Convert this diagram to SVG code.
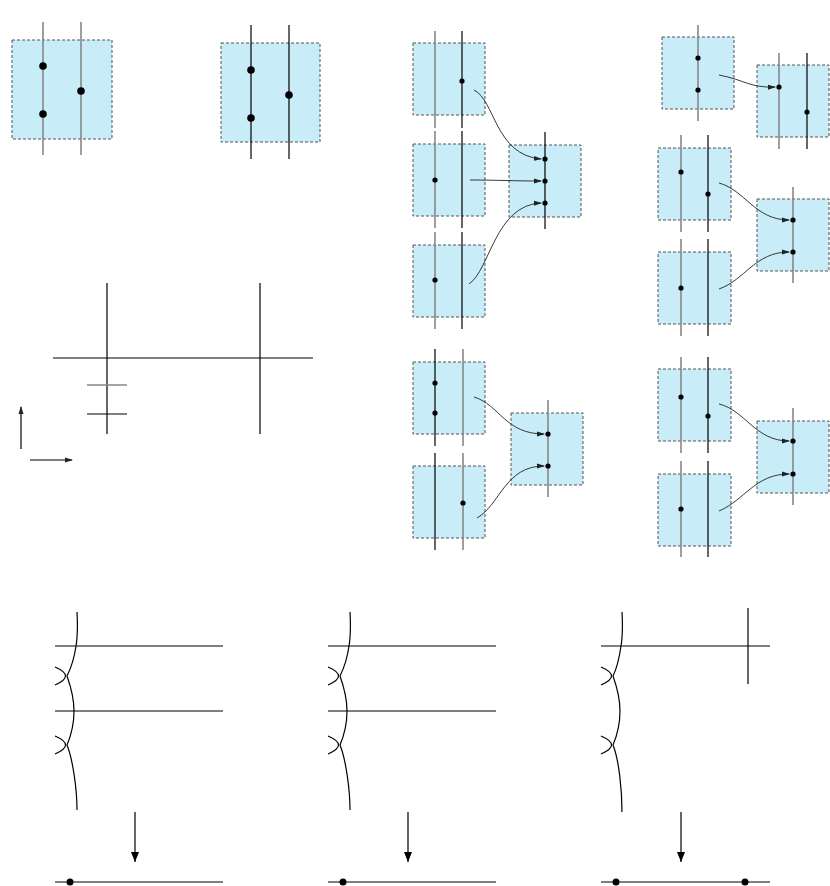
<svg xmlns="http://www.w3.org/2000/svg" width="830" height="886" viewBox="0 0 830 886">
<defs>
<style>
.box{fill:#c8ecf8;stroke:#555;stroke-width:1;stroke-dasharray:3,2}
.g{stroke:#888;stroke-width:1.6;fill:none}
.k{stroke:#000;stroke-width:1.2;fill:none}
.c{stroke:#222;stroke-width:0.9;fill:none;marker-end:url(#ah)}
.ln{stroke:#000;stroke-width:1.2;fill:none}
</style>
<marker id="ah" markerWidth="8" markerHeight="6" refX="7" refY="3" orient="auto" markerUnits="userSpaceOnUse"><path d="M0,0.5 L8,3 L0,5.5 z" fill="#222"/></marker>
<marker id="ah2" markerWidth="10" markerHeight="10" refX="10" refY="4.5" orient="auto" markerUnits="userSpaceOnUse"><path d="M0,0.5 L10,4.5 L0,8.5 z" fill="#000"/></marker>
</defs>
<rect width="830" height="886" fill="#fff"/>
<g id="p1"><rect class="box" x="12" y="40" width="100" height="99"/><line class="g" x1="43" y1="22" x2="43" y2="155"/><line class="g" x1="81" y1="22" x2="81" y2="155"/><circle cx="43" cy="66" r="3.8"/><circle cx="81" cy="91" r="3.8"/><circle cx="43" cy="114" r="3.8"/></g>
<g id="p2"><rect class="box" x="221" y="43" width="99" height="99"/><line class="k" x1="251" y1="25" x2="251" y2="159"/><line class="k" x1="289" y1="25" x2="289" y2="159"/><circle cx="251" cy="70" r="3.8"/><circle cx="289" cy="95" r="3.8"/><circle cx="251" cy="118" r="3.8"/></g>
<g id="grid">
<line class="ln" x1="107" y1="283" x2="107" y2="434"/><line class="ln" x1="260" y1="283" x2="260" y2="434"/>
<line class="ln" x1="53" y1="358" x2="313" y2="358"/>
<line class="g" x1="87" y1="385" x2="127" y2="385"/><line class="ln" x1="87" y1="414" x2="127" y2="414"/>
<line class="ln" x1="21" y1="449" x2="21" y2="407" marker-end="url(#ah)"/>
<line class="ln" x1="30" y1="460" x2="72" y2="460" marker-end="url(#ah)"/>
</g>
<g id="c3">
<g id="c3a"><rect class="box" x="413" y="43" width="72" height="72"/><line class="g" x1="435" y1="31" x2="435" y2="128"/><line class="k" x1="462" y1="31" x2="462" y2="128"/><circle cx="462" cy="81" r="2.6"/></g>
<g id="c3b"><rect class="box" x="413" y="144" width="72" height="72"/><line class="g" x1="435" y1="131" x2="435" y2="228"/><line class="k" x1="462" y1="131" x2="462" y2="228"/><circle cx="435" cy="180" r="2.6"/></g>
<g id="c3c"><rect class="box" x="413" y="245" width="72" height="72"/><line class="g" x1="435" y1="232" x2="435" y2="329"/><line class="k" x1="462" y1="232" x2="462" y2="329"/><circle cx="435" cy="280" r="2.6"/></g>
<g id="c3t"><rect class="box" x="509" y="145" width="72" height="72"/><line class="k" x1="545" y1="132" x2="545" y2="229"/><circle cx="545" cy="159" r="2.6"/><circle cx="545" cy="181" r="2.6"/><circle cx="545" cy="203" r="2.6"/></g>
</g>
<g id="c4">
<g id="c4a"><rect class="box" x="662" y="37" width="72" height="72"/><line class="g" x1="698" y1="25" x2="698" y2="121"/><circle cx="698" cy="58" r="2.6"/><circle cx="698" cy="90" r="2.6"/></g>
<g id="c4b"><rect class="box" x="757" y="65" width="72" height="72"/><line class="g" x1="779" y1="53" x2="779" y2="149"/><line class="k" x1="807" y1="53" x2="807" y2="149"/><circle cx="779" cy="87" r="2.6"/><circle cx="807" cy="112" r="2.6"/></g>
<g id="c4c"><rect class="box" x="658" y="148" width="73" height="72"/><line class="g" x1="681" y1="135" x2="681" y2="232"/><line class="k" x1="708" y1="135" x2="708" y2="232"/><circle cx="681" cy="172" r="2.6"/><circle cx="708" cy="194" r="2.6"/></g>
<g id="c4d"><rect class="box" x="658" y="252" width="73" height="72"/><line class="g" x1="681" y1="239" x2="681" y2="336"/><line class="k" x1="708" y1="239" x2="708" y2="336"/><circle cx="681" cy="288" r="2.6"/></g>
<g id="c4e"><rect class="box" x="757" y="199" width="72" height="72"/><line class="g" x1="793" y1="187" x2="793" y2="283"/><circle cx="793" cy="220" r="2.6"/><circle cx="793" cy="252" r="2.6"/></g>
</g>
<g id="c5">
<g id="c5a"><rect class="box" x="413" y="362" width="72" height="72"/><line class="k" x1="435" y1="349" x2="435" y2="446"/><line class="g" x1="463" y1="349" x2="463" y2="446"/><circle cx="435" cy="383" r="2.6"/><circle cx="435" cy="413" r="2.6"/></g>
<g id="c5b"><rect class="box" x="413" y="466" width="72" height="72"/><line class="k" x1="435" y1="453" x2="435" y2="550"/><line class="g" x1="463" y1="453" x2="463" y2="550"/><circle cx="463" cy="503" r="2.6"/></g>
<g id="c5t"><rect class="box" x="511" y="413" width="72" height="72"/><line class="g" x1="548" y1="400" x2="548" y2="497"/><circle cx="548" cy="434" r="2.6"/><circle cx="548" cy="466" r="2.6"/></g>
</g>
<g id="c6">
<g id="c6a"><rect class="box" x="658" y="369" width="73" height="72"/><line class="g" x1="681" y1="357" x2="681" y2="453"/><line class="k" x1="708" y1="357" x2="708" y2="453"/><circle cx="681" cy="397" r="2.6"/><circle cx="708" cy="416" r="2.6"/></g>
<g id="c6b"><rect class="box" x="658" y="474" width="73" height="72"/><line class="g" x1="681" y1="461" x2="681" y2="557"/><line class="k" x1="708" y1="461" x2="708" y2="557"/><circle cx="681" cy="509" r="2.6"/></g>
<g id="c6t"><rect class="box" x="757" y="421" width="72" height="72"/><line class="g" x1="793" y1="408" x2="793" y2="505"/><circle cx="793" cy="441" r="2.6"/><circle cx="793" cy="474" r="2.6"/></g>
</g>
<g id="connectors">
<path class="c" d="M474,90 C495,100 495,155 541,159"/>
<path class="c" d="M470,180 C500,180 510,181 541,181"/>
<path class="c" d="M469,284 C490,270 495,205 541,203"/>
<path class="c" d="M719,75 C745,80 750,88 775,87"/>
<path class="c" d="M719,183 C745,190 755,220 789,220"/>
<path class="c" d="M719,289 C745,280 755,252 789,252"/>
<path class="c" d="M474,397 C500,405 505,434 544,434"/>
<path class="c" d="M477,518 C500,505 505,466 544,466"/>
<path class="c" d="M719,404 C745,410 755,441 789,441"/>
<path class="c" d="M719,511 C745,500 755,474 789,474"/>
</g>
<g id="b1">
<line class="ln" x1="55" y1="646" x2="223" y2="646"/><line class="ln" x1="55" y1="711" x2="223" y2="711"/>
<path class="ln" d="M77,612 C78,630 77,640 76,646 C74,660 70,670 67,676 C72,690 74,700 74,711 C74,725 70,738 67,745 C73,760 77,790 77,810"/>
<path class="ln" d="M55,667 Q76,676 55,685"/><path class="ln" d="M55,736 Q76,745 55,754"/>
<line class="ln" x1="135" y1="812" x2="135" y2="862" marker-end="url(#ah2)"/>
<line class="ln" x1="55" y1="882" x2="223" y2="882"/><circle cx="70" cy="882" r="3.5"/>
</g>
<g id="b2">
<line class="ln" x1="328" y1="646" x2="496" y2="646"/><line class="ln" x1="328" y1="711" x2="496" y2="711"/>
<path class="ln" d="M350,612 C351,630 350,640 349,646 C347,660 343,670 340,676 C345,690 347,700 347,711 C347,725 343,738 340,745 C346,760 350,790 350,810"/>
<path class="ln" d="M328,667 Q349,676 328,685"/><path class="ln" d="M328,736 Q349,745 328,754"/>
<line class="ln" x1="408" y1="812" x2="408" y2="862" marker-end="url(#ah2)"/>
<line class="ln" x1="328" y1="882" x2="496" y2="882"/><circle cx="343" cy="882" r="3.5"/>
</g>
<g id="b3">
<line class="ln" x1="601" y1="646" x2="770" y2="646"/><line class="ln" x1="748" y1="608" x2="748" y2="684"/>
<path class="ln" d="M622,612 C623,630 622,640 621,646 C619,660 616,670 613,676 C618,690 620,700 620,711 C620,725 616,738 613,745 C619,760 622,790 622,812"/>
<path class="ln" d="M601,667 Q622,676 601,685"/><path class="ln" d="M601,736 Q622,745 601,754"/>
<line class="ln" x1="681" y1="812" x2="681" y2="862" marker-end="url(#ah2)"/>
<line class="ln" x1="601" y1="882" x2="770" y2="882"/><circle cx="616" cy="882" r="3.5"/><circle cx="745" cy="882" r="3.5"/>
</g>
</svg>
